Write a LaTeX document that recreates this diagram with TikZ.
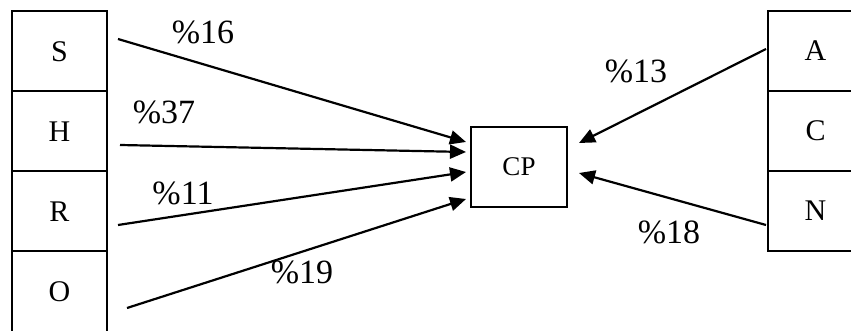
\documentclass[tikz,border=0pt]{standalone}
\usepackage{fontspec}
\setmainfont{Liberation Serif}
\usetikzlibrary{arrows.meta}

\begin{document}
\begin{tikzpicture}[x=0.5pt,y=-0.5pt,line width=1.00pt,
    boxf/.style={draw,rectangle,align=center,minimum width=47.5pt,minimum height=40pt,font=\fontsize{15}{17}\selectfont},
    pct/.style={font=\fontsize{17}{20}\selectfont},
    arr/.style={line width=1.1pt,-{Triangle[length=8pt,width=7pt]}}]
      \clip (0,0) rectangle (851,331);

      \node [boxf] (s) at (59.5, 51.5) {S};
      \node [boxf] (h) at (59.5,131.5) {H};
      \node [boxf] (r) at (59.5,211.5) {R};
      \node [boxf] (o) at (59.5,291.5) {O};

      \node [boxf] (a) at (815.5, 51) {A};
      \node [boxf] (c) at (815.5,131) {C};
      \node [boxf] (n) at (815.5,211) {N};

      \node [draw,rectangle,align=center,minimum width=48pt,minimum height=40pt,font=\fontsize{13.5}{15}\selectfont] (cp) at (519,167) {CP};

      \draw [arr] ([shift={(10,-12.5)}]s.east) -- ([shift={(-4,-25)}]cp.west);
      \draw [arr] ([shift={(12,13.5)}]h.east)  -- ([shift={(-4,-15)}]cp.west);
      \draw [arr] ([shift={(10,13.5)}]r.east)  -- ([shift={(-4,5)}]cp.west);
      \draw [arr] ([shift={(19,16.5)}]o.east)  -- ([shift={(-4,32)}]cp.west);
      \draw [arr] ([shift={(-1,-2)}]a.west)    -- ([shift={(11,-24)}]cp.east);
      \draw [arr] ([shift={(-1,14)}]n.west)    -- ([shift={(11,6)}]cp.east);

      \node [pct] (p16) at (203, 32) {\%16};
      \node [pct] (p37) at (164,112) {\%37};
      \node [pct] (p11) at (183,193) {\%11};
      \node [pct] (p19) at (302,272) {\%19};
      \node [pct] (p13) at (636, 71) {\%13};
      \node [pct] (p18) at (669,232) {\%18};
    \end{tikzpicture}
\end{document}
